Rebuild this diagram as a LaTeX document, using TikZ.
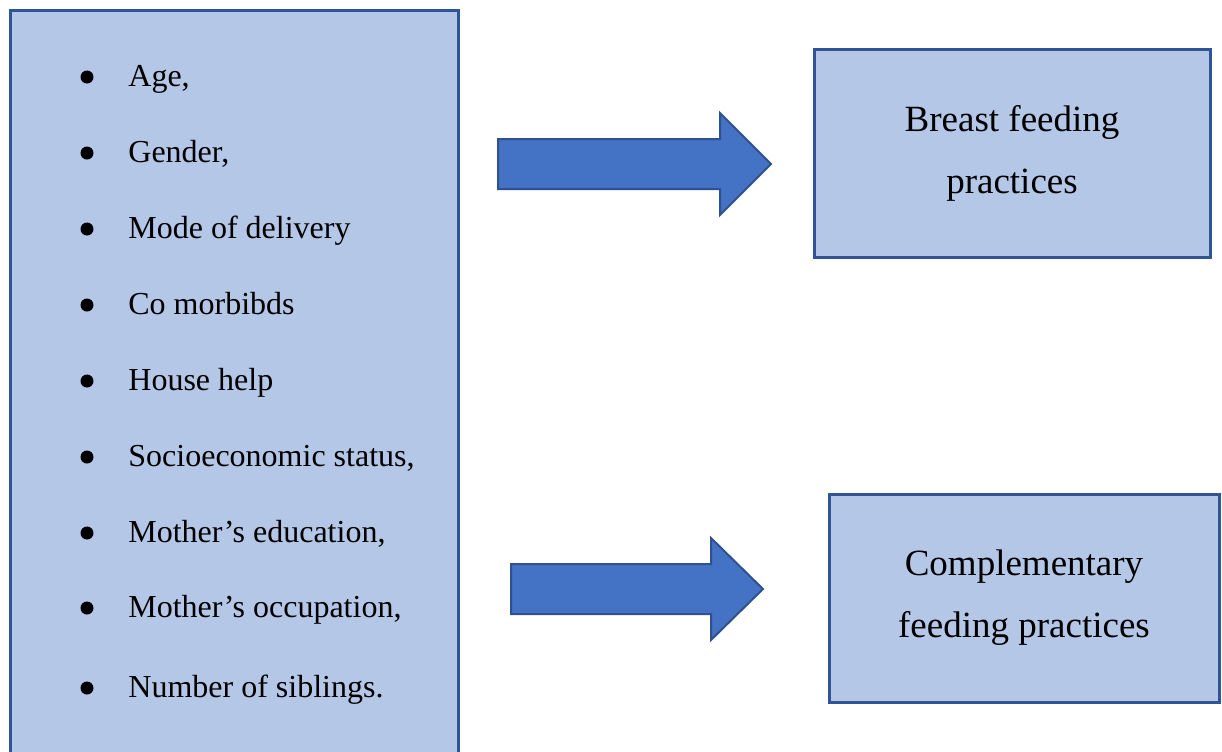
\documentclass[tikz,border=0pt]{standalone}
\usepackage{fontspec}
\setmainfont{Liberation Serif}
\usetikzlibrary{positioning}
\definecolor{boxfill}{RGB}{180,199,231}
\definecolor{boxline}{RGB}{47,85,151}
\definecolor{arrowfill}{RGB}{68,114,196}
\definecolor{arrowline}{RGB}{47,82,143}
\tikzset{
  factorbox/.style={fill=boxfill, draw=boxline, line width=1.5pt},
  outcome/.style={
    rectangle,
    fill=boxfill,
    draw=boxline, line width=1.5pt,
    align=center,
    font=\fontsize{18.5}{31}\selectfont},
  factor/.style={anchor=base west, inner sep=0pt, font=\fontsize{16}{19}\selectfont},
  bulletdot/.style={circle, fill=black, inner sep=0pt, minimum size=6.5pt},
  bigarrow/.style={fill=arrowfill, draw=arrowline, line width=1pt, line join=miter},
}

\begin{document}
\begin{tikzpicture}[x=0.5pt, y=-0.5pt]

  \useasboundingbox (0,0) rectangle (1222,751);
  \clip (0,0) rectangle (1222,751);

  %% Draw Factors
  \draw[factorbox] (10,10) rectangle (458,790);
  \foreach \y/\t [count=\i] in {86/{Age,},
                     162/{Gender,},
                     238/{Mode of delivery},
                     314/{Co morbibds},
                     390/{House help},
                     466/{Socioeconomic status,},
                     542/{Mother’s education,},
                     617/{Mother’s occupation,},
                     697/{Number of siblings.}
                     }{
    \node[bulletdot] (bullet\i) at (87,{\y-9}) {};
    \node[factor] (factor\i) at (128,\y) {\t};
  }

  %% Draw Arrows
  \foreach \xa/\xb/\xc/\ym in {498/720/771/164,
                     511/711/763/589
                     }{
    \draw[bigarrow] (\xa,{\ym-25}) -- (\xb,{\ym-25}) -- (\xb,{\ym-51}) -- (\xc,\ym)
      -- (\xb,{\ym+51}) -- (\xb,{\ym+25}) -- (\xa,{\ym+25}) -- cycle;
  }

  %% Draw Outcomes
  \node[outcome, minimum width=198pt, minimum height=104pt] (breast) at (1012,153.5)
    {Breast feeding\\practices};
  \node[outcome, minimum width=195pt, minimum height=104pt] (complementary) at (1024,598)
    {Complementary\\feeding practices};

\end{tikzpicture}
\end{document}
